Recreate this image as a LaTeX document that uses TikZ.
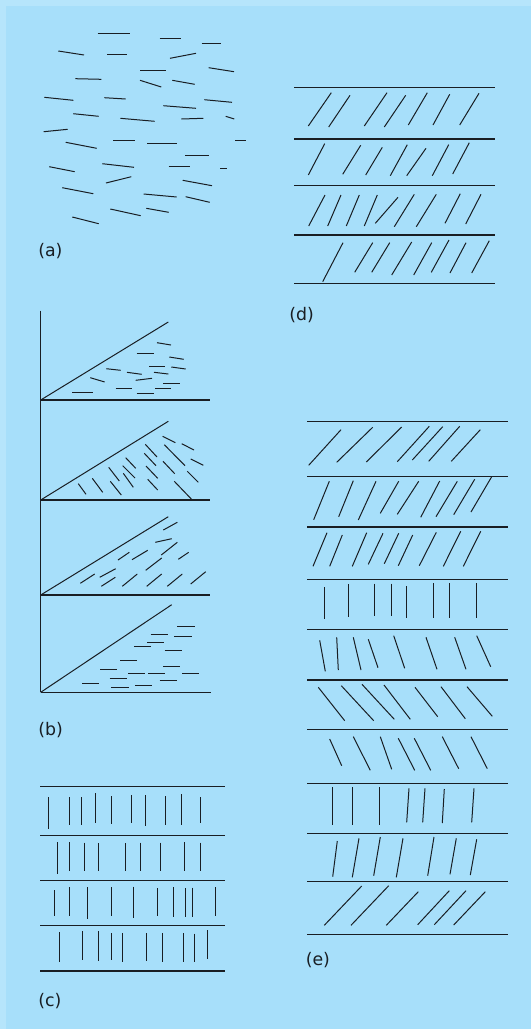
\documentclass[tikz,border=0pt]{standalone}
\usepackage{fontspec}
\setmainfont{DejaVu Sans}
\definecolor{bgblue}{RGB}{167,223,250}
\definecolor{rimblue}{RGB}{182,229,251}
\definecolor{inkc}{RGB}{25,30,35}
\begin{document}
\begin{tikzpicture}[x=0.75pt,y=-0.75pt,
  seg/.style={draw=inkc,line width=0.75pt},
  rule/.style={draw=inkc,line width=0.9pt},
  lbl/.style={anchor=west,inner sep=0pt,font=\fontsize{13}{15}\selectfont,text=inkc}]
\fill[rimblue] (0,0) rectangle (531,1029);
\fill[bgblue] (6,6) rectangle (531,1029);
\useasboundingbox (0,0) rectangle (531,1029);
% ---------- (a)
\foreach \a/\b/\c/\d in {97.7/33.7/130/33.7, 159.7/38/180.7/38, 201.7/43.7/220.7/43.7, 58.3/51/84/55,
 107/54/127.3/54, 170/58.3/196/53.3, 140/70.7/166/70.7, 208.7/67.7/234/71.7, 75.3/78.7/101.3/79.3,
 140/80.3/161.3/87, 172.3/80.3/194.7/84.3, 44.3/97.3/73.3/100.3, 104.3/97.7/125.7/99, 204.3/99.7/232/102.3,
 163.3/105.7/196/108.3, 73.3/113.7/98.7/116.3, 120.3/118.3/154.7/121.3, 181.3/119/203.3/118.3,
 225.7/116.3/234.3/119, 43.7/131.7/67.7/129.3, 65.7/142.3/96.7/148.3, 113.3/140/134.7/140,
 147.3/143/177.3/143, 235/140/245.7/140, 185.3/155.7/208.7/155.7, 49.3/166.7/74.7/171.7,
 102.3/163.7/134/167.3, 168.7/166.7/190/166.7, 220.3/168.3/226.7/168.3, 106/183/131.3/176.7,
 182.7/180.3/212/185.7, 62.3/187.7/93.3/193.7, 143.7/194/176.7/197, 185.7/196.7/209.7/202.3,
 110.3/209/140.7/215.7, 146.3/208.3/168.7/212.3, 72.3/217/98.7/223.7}
 \draw[seg] (\a,\b) -- (\c,\d);
\node[lbl] (la) at (38,251) {(a)};
% ---------- (b)
\draw[rule] (40.7,310.7) -- (40.7,692.3);
\foreach \y in {400,500,595} \draw[rule] (40.7,\y) -- (210,\y);
\draw[rule] (40.7,692.3) -- (211,692.3);
\draw[seg] (40.7,400) -- (168.3,322);
\draw[seg] (40.7,500) -- (168.3,421.3);
\draw[seg] (40.7,595) -- (168.3,516.7);
\draw[seg] (40.7,692.3) -- (171.7,604.7);
\foreach \a/\b/\c/\d in {157/342.7/171/345, 136.7/353/153.7/353, 169.3/357/183.7/359.3, 106.3/368.7/120.7/370.3,
 127/372.3/141.7/374.3, 149/366.3/165/366.3, 171.3/367/185.7/369, 154/372.3/168.3/374, 90.3/377.7/104.7/382,
 135.7/380.3/152/378.3, 163/383/179.7/383, 72.3/392.3/92.7/392.3, 115.7/388/132/388, 155/388.3/171.3/388.3,
 136.7/393/153.7/393}
 \draw[seg] (\a,\b) -- (\c,\d);
\foreach \a/\b/\c/\d in {162.7/436.3/175.3/442.7, 181.7/443.7/194/450, 145.3/444.3/157/457, 164.3/444.7/185/465.7,
 144.3/453.3/156/465.7, 125.7/457.7/135.7/468.3, 190.7/459/203.3/465.3, 108.7/467.3/119.3/481,
 122.7/465.7/135/478, 146/466/157.7/478.3, 163/461.3/174.7/473.7, 187.3/471.3/198.3/482.3,
 92.3/478.3/102.7/492.3, 123.3/473.3/133.3/487.3, 78.3/483.7/86/494.3, 110.3/481.3/121.3/495,
 147.7/479.3/157.7/490, 174.3/481.3/191.3/499}
 \draw[seg] (\a,\b) -- (\c,\d);
\foreach \a/\b/\c/\d in {163.3/530/177.3/522.3, 155.3/542.3/171.7/538.7, 161.3/555/177.3/542.3, 178.3/559.3/188.7/552.3,
 118/560/129.3/552.3, 132/559.7/147.7/550.3, 145.7/570.3/161.7/558, 80.3/583.3/94.7/574, 99.7/577.3/115.7/568.7,
 101.3/586.3/115.3/577.3, 122.3/586.3/137.3/574, 146.7/586.3/161.7/574, 167.3/586.3/182.3/574, 190.7/584/205.7/571.7}
 \draw[seg] (\a,\b) -- (\c,\d);
\foreach \a/\c/\b in {177.3/194.7/626, 150.7/168/634, 174/191.7/636, 147/164/642, 134.3/151.3/646.3, 164.7/182/650.3,
 120.3/137.3/660.3, 100.3/117.3/669, 163/180/666.3, 128.3/145.3/673.7, 148.3/165.3/673, 182.3/199.3/673,
 109.7/126.7/678.3, 159.7/176.7/680.3, 82.3/99.3/683.7, 111.3/128.7/687, 135.3/152/685}
 \draw[seg] (\a,\b) -- (\c,\b);
\node[lbl] (lb) at (38,730) {(b)};
% ---------- (c)
\foreach \y in {786.7,835.3,880.3,925.7,971} \draw[rule] (40,\y) -- (224.7,\y);
\foreach \x/\b/\d in {48.7/797/828.7, 69/797/825.3, 81.7/797/825.3, 95.3/793/822.7, 111.3/796.3/823.7,
 131.7/795/822.7, 145/795/825.7, 165.7/796.3/825.3, 181/794/825.3, 200/797.3/822.7,
 57.7/842.3/874.3, 69/842.3/870.7, 84.3/842.7/870.7, 98/843.3/871.3, 125/843.3/871.3, 140.3/842.7/871.3,
 160.3/842.7/870.7, 184.3/842.3/870.7, 200.7/842.7/870.7,
 54.7/890/916, 69/887.3/916, 87.7/887.3/919, 111.3/887.3/916, 133.3/886.7/918.3, 157/888.3/916,
 173/887.3/916.7, 185.7/888.3/917, 192.3/887.7/917, 215.7/887.3/916,
 59.7/932.3/961.7, 82/931/960, 98.3/931/960.7, 111.7/933.3/960, 122/933/962, 146/933/960.7,
 162.7/933/962, 183.7/933.3/962.3, 194.3/933.7/962.3, 207.7/930.3/959.3}
 \draw[seg] (\x,\b) -- (\x,\d);
\node[lbl] (lc) at (38,1001) {(c)};
% ---------- (d)
\foreach \y in {87.7,139,185.7,235,283.7} \draw[rule] (294,\y) -- (495,\y);
\foreach \a/\b/\c/\d in {308.3/126/331.3/92.7, 328.7/127/350/95.3, 364.3/126/387/92.7, 384.3/127/405.7/95.3,
 408.3/125/427.3/92.7, 433/125/449.7/94.3, 459.7/125/479/93.3,
 308.3/175/324.7/143.7, 342.7/174.3/360.7/145.3, 365.7/175/382.3/147.3, 390.3/175.7/407.3/144.7,
 406.7/175.7/426/148.3, 432.3/175.7/448.7/144.7, 452.7/174/469.3/142.7,
 308.7/226/325/195, 327.7/226/341/195, 346.3/226/359.3/195, 364.3/226/377.3/195, 375.3/223.3/398/197.3,
 394.3/226.7/414.3/194.3, 416.3/226.7/436.3/194.3, 445/223.3/460.3/193.7, 465.7/224/481/194.3,
 322.7/281.7/343/242.7, 354.7/272.3/372.7/242.7, 371.7/272.3/389.7/242.7, 391.7/275/411.7/242,
 413.7/275/431.7/242.7, 431.3/272.3/449/240, 450/273/466/242.7, 471.7/273/489.3/240.7}
 \draw[seg] (\a,\b) -- (\c,\d);
\node[lbl] (ld) at (289,315) {(d)};
% ---------- (e)
\foreach \y in {421.3,476.7,527,579.7,629.3,680,729.3,783.3,833.3,881.7,934.3} \draw[rule] (307.3,\y) -- (508.3,\y);
\foreach \a/\b/\c/\d in {308.7/465.3/341/429.7, 336.7/462.3/372.7/427.3, 366.3/462/401.7/427, 397.3/461.7/429.3/426.3,
 412.3/460/442.7/426.7, 428.7/461.3/459.7/426.3, 451.3/461.3/480.3/429.7,
 313.7/519.7/329.3/481.3, 338.7/516.7/353.3/480.7, 358.3/520/376/481.3, 380.3/513.3/398.7/481.3,
 397.3/514.3/418.7/481.3, 420.7/517.3/439.7/481, 436/516.7/457.3/481.3, 453.7/514.7/474.7/479.3, 471/512/491.7/476.7,
 313/566.3/327/532.7, 329.7/566.3/342.3/535, 352.3/566.3/366.7/532.7, 368.3/564.3/383/533.3, 384.3/563.7/398.7/533.3,
 398.3/565.7/412.7/535, 419.3/565.7/436.3/532.3, 443.3/566.3/460.7/531.3, 463.3/566.3/480.7/531.3,
 324.3/587.3/324.3/619.3, 348.3/584.3/348.3/616.7, 374.3/583.7/374.3/615.7, 391.7/583.7/391.7/615.7,
 406.7/586/406.7/618, 433/583/433/618, 449.3/583/449.3/618, 476.7/583/476.7/618,
 319.7/640.3/325.3/671.3, 336.7/637.3/338.3/670, 353.3/637.3/361/670, 368.3/639.3/378/667.7,
 393.7/635.7/404.7/668.3, 426/637.3/437/669.3, 454.7/637.3/466/669.3, 476.7/635.7/490.7/666.7,
 318.3/687.3/344.7/720.7, 341.3/685.7/373.7/720.7, 362/684.3/394.3/719.3, 384/685/410.3/719.3,
 415/687.3/437.7/716.7, 441/686.7/465.3/718.7, 467/686.7/492.3/716.3,
 329.7/739/341.7/765.7, 353.3/736.7/370.3/770.3, 380.3/736.7/391.7/769.3, 398.3/738.3/414.7/770.3,
 414.3/738.3/430.7/770.3, 442.3/736.7/458.7/768.7, 471/736.7/487.3/768.7,
 332.7/787.3/332.7/824.7, 352.3/787.3/352.3/824.7, 379/787.3/379/824.7, 409/788.3/406.7/822.3,
 425/788.3/422.7/822.3, 444.3/789/442.3/823, 474/788.3/471.7/822.3,
 332.7/876.7/337.3/841, 352.3/877.3/359/838.3, 373.7/875.7/380.3/837, 396.3/877.3/403/838.3,
 427.7/875.7/434/837, 450/874.3/456.3/838.3, 470.3/875/476.7/839.3,
 324.3/925.3/361.7/886, 351/925.3/388.7/885.7, 386.3/925.3/418.3/891.7, 417.7/924.7/449.3/890.7,
 434.3/924.7/466/890.7, 453.7/925/485.3/891.7}
 \draw[seg] (\a,\b) -- (\c,\d);
\node[lbl] (le) at (305.5,959.7) {(e)};
\end{tikzpicture}
\end{document}
